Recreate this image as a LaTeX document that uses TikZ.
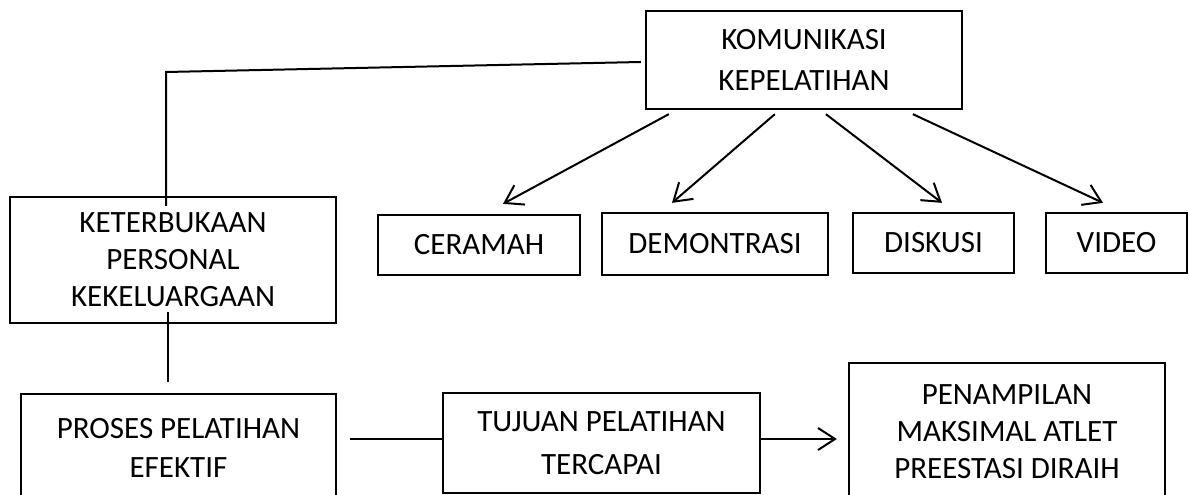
\documentclass[tikz,border=0pt]{standalone}
\usepackage{fontspec}
\setmainfont{Carlito}
\usetikzlibrary{arrows.meta,positioning}

\begin{document}
\begin{tikzpicture}[
  x=1pt, y=-1pt,
  box/.style={draw, line width=2.3pt, align=center, inner sep=0pt,
              font=\fontsize{31}{38}\selectfont},
  arr/.style={-{Straight Barb[length=17pt,width=22pt]}, line width=2pt},
  lin/.style={line width=2pt}
]
\useasboundingbox (0,0) rectangle (1189,495);
\clip (0,0) rectangle (1189,495);

\node[box, minimum width=316pt, minimum height=98pt, font=\fontsize{31}{41}\selectfont] (kom) at (804,60) {KOMUNIKASI\\KEPELATIHAN};
\node[box, minimum width=202pt, minimum height=60pt] (cer) at (479,245) {CERAMAH};
\node[box, minimum width=226pt, minimum height=62pt] (dem) at (715,244) {DEMONTRASI};
\node[box, minimum width=161pt, minimum height=60pt] (dis) at (933.5,243) {DISKUSI};
\node[box, minimum width=141pt, minimum height=60pt] (vid) at (1116.5,243) {VIDEO};
\node[box, minimum width=326pt, minimum height=126pt, font=\fontsize{31}{37}\selectfont] (ket) at (173,260) {KETERBUKAAN\\PERSONAL\\KEKELUARGAAN};
\node[box, minimum width=315pt, minimum height=107pt, font=\fontsize{31}{39}\selectfont] (pro) at (178.5,447.5) {PROSES PELATIHAN\\EFEKTIF};
\node[box, minimum width=317pt, minimum height=100pt, font=\fontsize{31}{43}\selectfont] (tuj) at (601.5,443) {TUJUAN PELATIHAN\\TERCAPAI};
\node[box, minimum width=316pt, minimum height=138pt, font=\fontsize{31}{37}\selectfont] (pen) at (1007,432) {PENAMPILAN\\MAKSIMAL ATLET\\PREESTASI DIRAIH};

\coordinate (kl) at ([xshift=-4pt,yshift=-2pt]kom.west);
\coordinate (kb) at ([xshift=-7pt,yshift=-10pt]ket.north);
\draw[lin] (kl) -- (kb |- 0,72) -- (kb);

\coordinate (k1) at ([xshift=24pt,yshift=-4pt]kom.south west);
\coordinate (k2) at ([xshift=130pt,yshift=-4pt]kom.south west);
\coordinate (k3) at ([xshift=181pt,yshift=-4pt]kom.south west);
\coordinate (k4) at ([xshift=268pt,yshift=-4pt]kom.south west);
\draw[arr] (k1) -- ([xshift=24pt,yshift=10pt]cer.north);
\draw[arr] (k2) -- ([xshift=-43pt,yshift=9pt]dem.north);
\draw[arr] (k3) -- ([xshift=8.5pt,yshift=9pt]dis.north);
\draw[arr] (k4) -- ([xshift=-13.5pt,yshift=9pt]vid.north);

\coordinate (ka) at ([xshift=-5pt,yshift=12pt]ket.south);
\coordinate (pa) at ([xshift=-10pt,yshift=11pt]pro.north);
\draw[lin] (ka) -- (ka |- pa);

\coordinate (tw) at ([yshift=4pt]tuj.west);
\coordinate (pe) at ([xshift=13pt]pro.east |- tw);
\draw[lin] (pe) -- (tw);
\coordinate (te) at ([yshift=4pt]tuj.east);
\coordinate (pw) at ([xshift=-11pt]pen.west |- te);
\draw[arr] (te) -- (pw);
\end{tikzpicture}
\end{document}
